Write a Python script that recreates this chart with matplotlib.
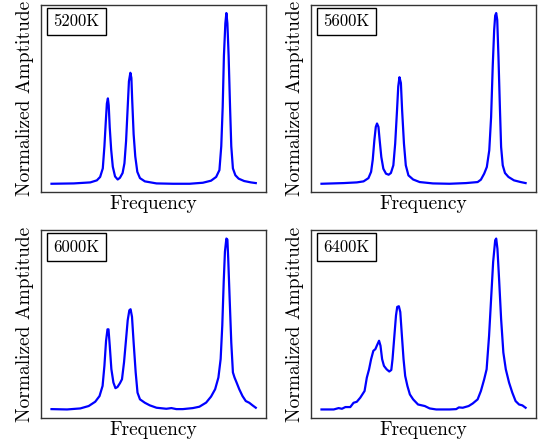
import matplotlib
matplotlib.use("Agg")
import matplotlib.pyplot as plt

plt.rcParams['font.family'] = ['cmr10', 'DejaVu Serif']
plt.rcParams['axes.formatter.use_mathtext'] = True

titles = ["5200K", "5600K", "6000K", "6400K"]

x_5200 = [0, 10.9, 19.0, 22.2, 23.8, 25.1, 25.9, 26.6, 27.1, 27.6, 28.0, 28.5, 29.2, 30.0, 31.1, 32.4, 33.5,
          34.8, 35.7, 36.5, 37.3, 37.9, 38.6, 39.1, 39.5, 40.2, 41.0, 42.0, 43.3, 45.7, 51.4, 59.5, 67.6,
          74.1, 78.1, 80.6, 82.2, 83.1, 83.8, 84.4, 85.1, 85.6, 86.1, 86.7, 87.4, 88.0, 88.8, 90.0, 91.6,
          94.3, 97.6, 100]
y_5200 = [0.0, 0.002, 0.008, 0.02, 0.04, 0.09, 0.22, 0.37, 0.47, 0.50, 0.46, 0.33, 0.20, 0.10, 0.043, 0.025, 0.035,
          0.063, 0.12, 0.25, 0.45, 0.60, 0.65, 0.62, 0.49, 0.29, 0.16, 0.07, 0.033, 0.014, 0.002, 0.0, 0.0,
          0.006, 0.018, 0.04, 0.08, 0.22, 0.45, 0.75, 0.94, 1.0, 0.94, 0.75, 0.45, 0.22, 0.09, 0.05, 0.03,
          0.016, 0.008, 0.004]

x_5600 = [0, 10.9, 17.3, 20.6, 23.0, 24.3, 25.1, 25.9, 26.6, 27.2, 27.9, 28.5, 29.3, 30.3, 31.6, 32.9, 34.0,
          35.2, 36.1, 37.0, 37.6, 38.2, 38.9, 39.5, 40.4, 41.3, 42.6, 44.9, 48.1, 54.6, 62.7, 70.8, 76.5,
          78.1, 79.7, 81.0, 82.2, 83.1, 83.9, 84.6, 85.1, 85.6, 86.1, 86.7, 87.4, 88.0, 88.8, 89.9, 91.6,
          94.3, 97.6, 100]
y_5600 = [0.0, 0.004, 0.008, 0.014, 0.033, 0.07, 0.14, 0.255, 0.333, 0.353, 0.333, 0.255, 0.157, 0.088, 0.059, 0.053, 0.063,
          0.108, 0.235, 0.43, 0.57, 0.624, 0.59, 0.43, 0.235, 0.108, 0.049, 0.025, 0.01, 0.002, 0.0, 0.004, 0.01,
          0.024, 0.059, 0.098, 0.196, 0.39, 0.69, 0.90, 0.985, 1.0, 0.96, 0.745, 0.45, 0.216, 0.108, 0.063, 0.04,
          0.02, 0.01, 0.004]

x_6000 = [0, 7.6, 14.1, 18.2, 21.4, 23.5, 25.0, 25.9, 26.7, 27.4, 27.9, 28.5, 29.3, 30.3, 31.3, 32.3, 33.5,
          34.5, 35.5, 36.5, 37.3, 38.1, 38.7, 39.4, 40.2, 41.2, 42.1, 43.3, 45.7, 48.1, 51.4, 56.2, 58.7,
          61.1, 64.3, 69.2, 72.4, 75.7, 78.1, 80.1, 81.7, 82.8, 83.6, 84.3, 84.9, 85.6, 86.1, 86.5, 87.2,
          88.0, 88.8, 89.6, 90.6, 91.9, 93.5, 95.1, 96.8, 98.4, 100]
y_6000 = [0.002, 0.0, 0.006, 0.02, 0.045, 0.078, 0.137, 0.255, 0.40, 0.467, 0.467, 0.373, 0.235, 0.157, 0.124, 0.131, 0.153,
          0.176, 0.275, 0.41, 0.52, 0.578, 0.584, 0.54, 0.39, 0.216, 0.098, 0.059, 0.039, 0.024, 0.01, 0.004, 0.008,
          0.002, 0.002, 0.008, 0.016, 0.04, 0.075, 0.118, 0.186, 0.294, 0.49, 0.745, 0.92, 0.996, 0.99, 0.88, 0.647,
          0.39, 0.216, 0.186, 0.157, 0.118, 0.078, 0.049, 0.039, 0.024, 0.01]

x_6400 = [0, 6.0, 8.4, 10.0, 11.7, 14.1, 15.7, 17.3, 19.0, 21.1, 22.2, 23.3, 24.3, 25.4, 26.4, 27.1, 28.2,
          28.9, 29.7, 30.6, 31.9, 33.2, 34.2, 34.8, 35.7, 36.5, 37.1, 37.9, 38.6, 39.4, 40.2, 41.0, 42.1,
          43.3, 44.9, 47.3, 50.6, 53.0, 56.2, 62.7, 66.0, 67.3, 69.2, 72.1, 74.1, 76.5, 78.1, 79.7, 80.9,
          82.1, 83.1, 84.1, 85.1, 85.6, 86.2, 87.0, 88.0, 89.1, 90.3, 91.9, 93.5, 95.1, 96.8, 98.4, 100]
y_6400 = [0.0, 0.0, 0.008, 0.004, 0.014, 0.014, 0.039, 0.045, 0.069, 0.108, 0.186, 0.235, 0.294, 0.343, 0.353, 0.373, 0.402,
          0.373, 0.294, 0.255, 0.235, 0.222, 0.231, 0.294, 0.43, 0.55, 0.60, 0.604, 0.57, 0.43, 0.294, 0.196, 0.137,
          0.088, 0.059, 0.029, 0.02, 0.006, 0.0, 0.0, 0.002, 0.012, 0.01, 0.02, 0.035, 0.059, 0.108, 0.176, 0.235,
          0.43, 0.647, 0.863, 0.99, 1.0, 0.94, 0.765, 0.53, 0.333, 0.235, 0.157, 0.098, 0.049, 0.029, 0.024, 0.01]

xs = [x_5200, x_5600, x_6000, x_6400]
ys = [y_5200, y_5600, y_6000, y_6400]

fig = plt.figure(figsize=(5.42, 4.43), dpi=100)
W, H = 542.0, 443.0
boxes = [(41.3, 4.5, 266.0, 192.3), (311.3, 4.5, 535.8, 192.3),
         (41.3, 230.0, 266.0, 418.0), (311.3, 230.0, 535.8, 418.0)]

for i in range(4):
    l, t, r, b = boxes[i]
    ax = fig.add_axes([l / W, 1 - b / H, (r - l) / W, (b - t) / H])
    ax.plot(xs[i], ys[i], color='#0000ff', linewidth=1.6)
    ax.set_xticks([])
    ax.set_yticks([])
    ax.set_xlabel("Frequency", fontsize=14, labelpad=2)
    ax.set_ylabel("Normalized Amptitude", fontsize=14, labelpad=5)
    ax.text(0.054, 0.909, titles[i], transform=ax.transAxes, fontsize=12, ha='left', va='center',
            bbox=dict(boxstyle='square,pad=0.37', facecolor='white', edgecolor='black', linewidth=1.0))
    for s in ax.spines.values():
        s.set_linewidth(1.0)
        s.set_color('#333333')

fig.savefig("out.png", dpi=100)
